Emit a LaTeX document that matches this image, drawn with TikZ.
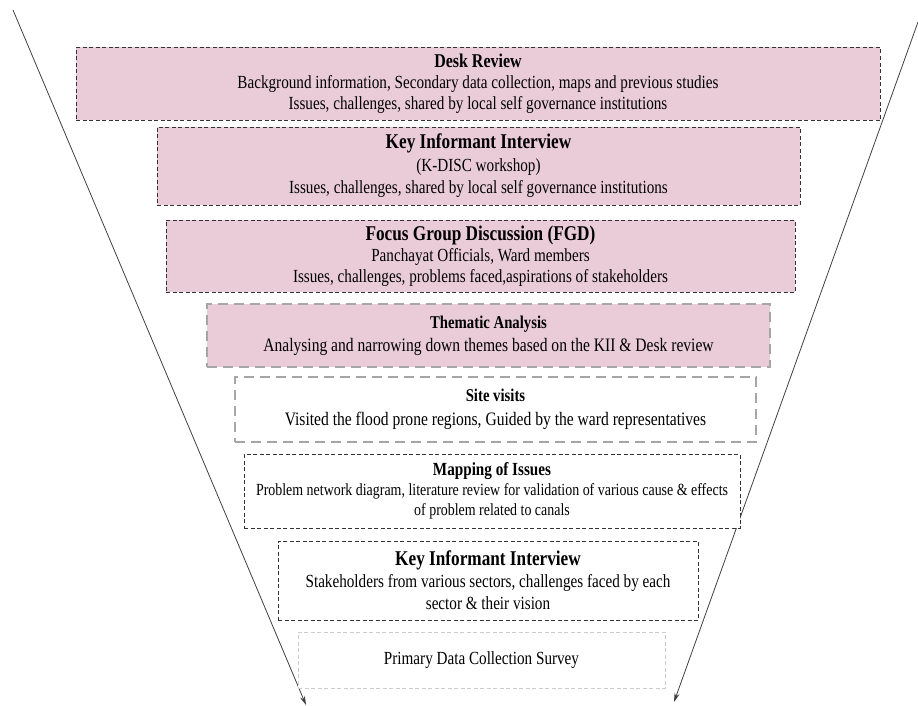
\documentclass[tikz,border=0pt]{standalone}
\usepackage{fontspec}
\setmainfont{Liberation Serif}[FakeStretch=0.82]
\usetikzlibrary{arrows.meta}

\definecolor{stagepink}{HTML}{EACCD9}
\newcommand{\stagesize}[2]{\fontsize{#1}{#2}\selectfont}
\newcommand{\stagetitle}[2]{{\stagesize{#1}{#1}\bfseries #2}}

\tikzset{
  stage/.style={draw=black!80, line width=0.7pt, dash pattern=on 4pt off 2.5pt,
    align=center, inner sep=0pt},
  pinkstage/.style={stage, fill=stagepink},
  greystage/.style={draw=black!35, line width=1.8pt, dash pattern=on 10pt off 6pt,
    align=center, inner sep=0pt},
  faintstage/.style={draw=black!20, line width=0.6pt, dash pattern=on 4pt off 2.5pt,
    align=center, inner sep=0pt},
  funnel/.style={draw=black!75, line width=0.8pt, -{Stealth[length=9pt,width=5pt]}}
}

\begin{document}
\begin{tikzpicture}[x=1pt,y=-1pt]
\useasboundingbox (0,0) rectangle (918,706);

% Funnel sides
\coordinate (lefttop) at (13,10);
\coordinate (leftend) at (306,705);
\coordinate (righttop) at (918,22);
\coordinate (rightend) at (674,702);
\draw[funnel] (lefttop) -- (leftend);
\draw[funnel] (righttop) -- (rightend);

% Stages of the study
\node[pinkstage, minimum width=804, minimum height=73, font=\stagesize{18.5}{21}]
  (desk) at (478,84)
  {\stagetitle{19.5}{Desk Review}\\
   Background information, Secondary data collection, maps and previous studies\\
   Issues, challenges, shared by local self governance institutions};

\node[pinkstage, minimum width=643, minimum height=78, font=\stagesize{18.5}{22.5}]
  (kiione) at (478.5,166)
  {\stagetitle{21}{Key Informant Interview}\\
   (K-DISC workshop)\\
   Issues, challenges, shared by local self governance institutions};

\node[pinkstage, minimum width=629, minimum height=72, font=\stagesize{18.5}{21}]
  (fgd) at (480.5,256)
  {\stagetitle{21}{Focus Group Discussion (FGD)}\\
   Panchayat Officials, Ward members\\
   Issues, challenges, problems faced,aspirations of stakeholders};

\node[greystage, fill=stagepink, minimum width=563, minimum height=63, font=\stagesize{19}{23}]
  (thematic) at (488.5,335.5)
  {\stagetitle{18}{Thematic Analysis}\\
   Analysing and narrowing down themes based on the KII \& Desk review};

\node[greystage, fill=white, minimum width=521, minimum height=65, font=\stagesize{19}{24}]
  (site) at (495.5,409.5)
  {\stagetitle{18}{Site visits}\\
   Visited the flood prone regions, Guided by the ward representatives};

\node[stage, fill=white, minimum width=496, minimum height=74, font=\stagesize{17}{20}]
  (mapping) at (492,491)
  {\stagetitle{18.5}{Mapping of Issues}\\
   Problem network diagram, literature review for validation of various cause \& effects\\
   of problem related to canals};

\node[stage, fill=white, minimum width=420, minimum height=79, font=\stagesize{18.5}{22}]
  (kiitwo) at (488,580.5)
  {\stagetitle{21}{Key Informant Interview}\\
   Stakeholders from various sectors, challenges faced by each\\
   sector \& their vision};

\node[faintstage, fill=white, minimum width=367, minimum height=56, font=\stagesize{18.5}{20}]
  (survey) at (481.5,660)
  {Primary Data Collection Survey};

\end{tikzpicture}
\end{document}
